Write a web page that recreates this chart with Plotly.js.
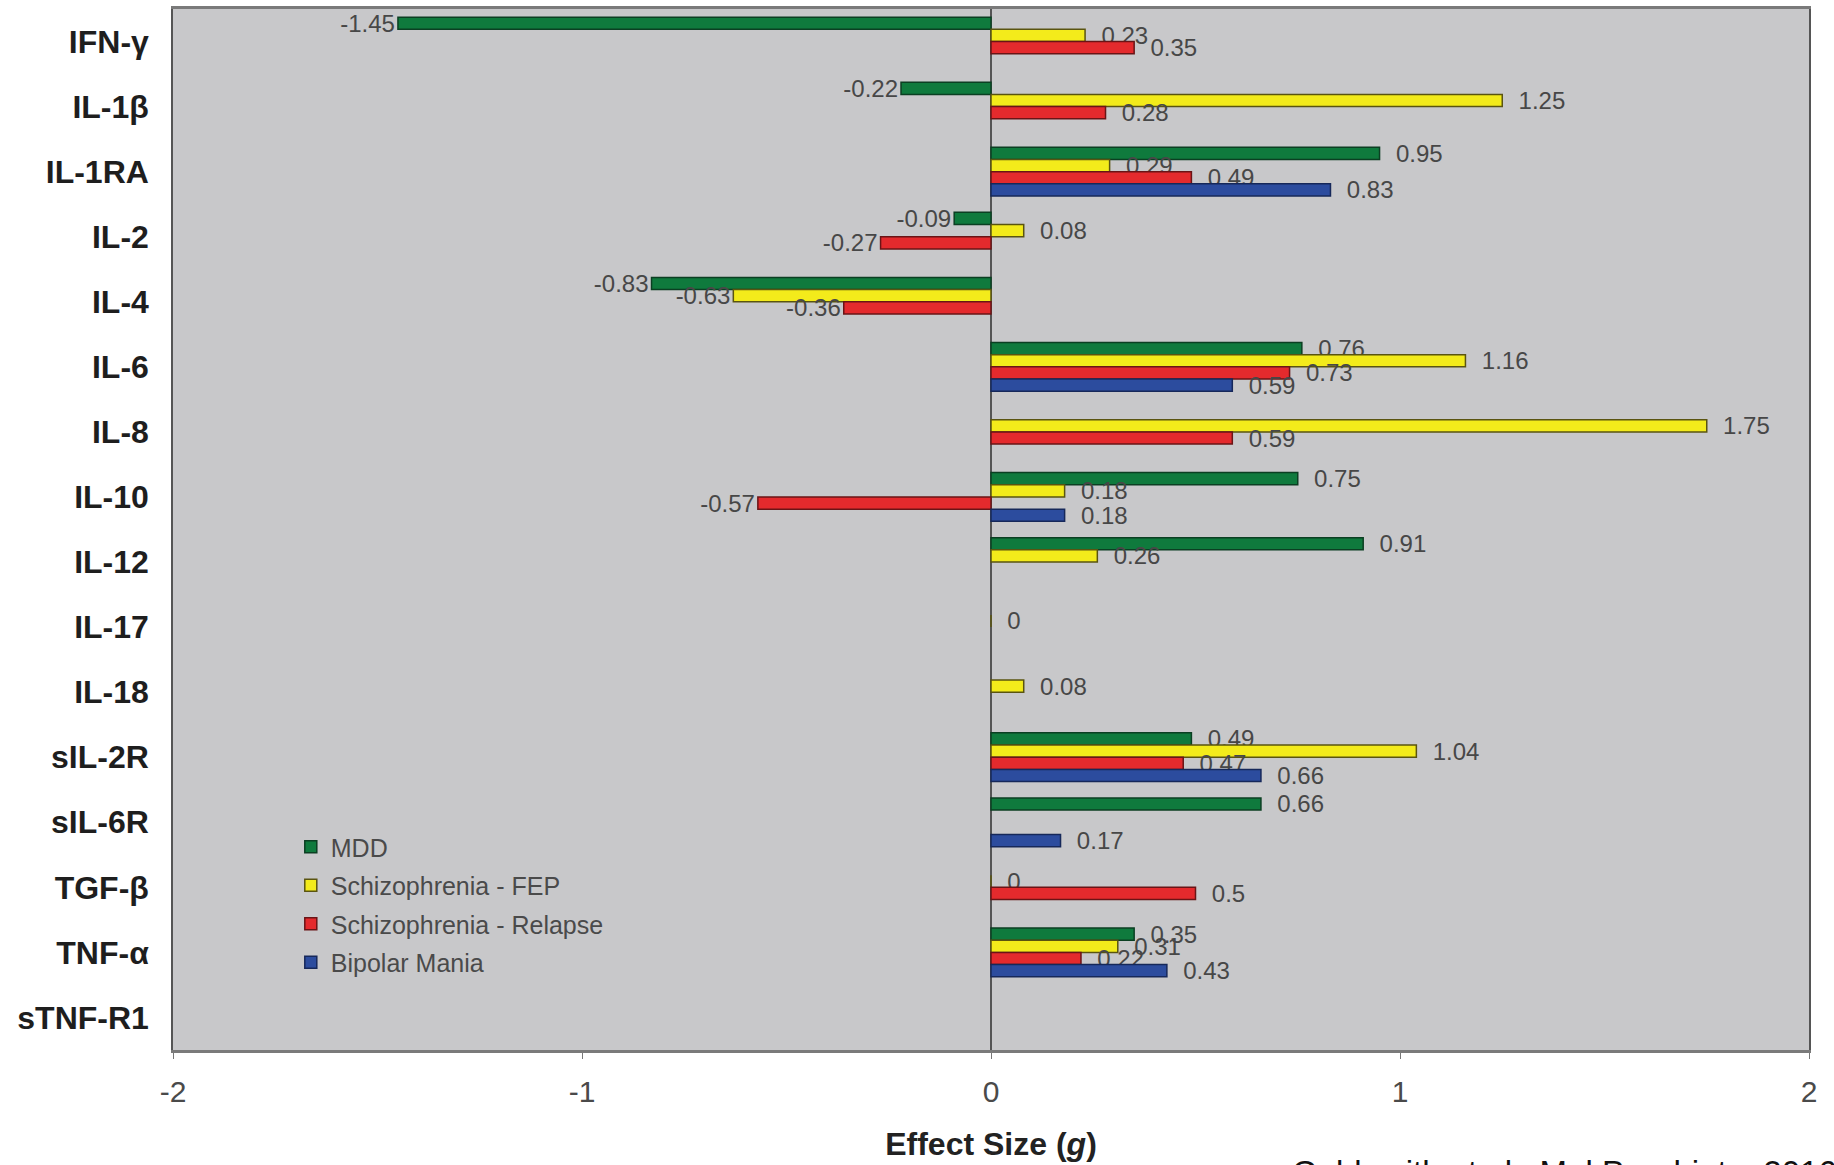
<!DOCTYPE html>
<html>
<head>
<meta charset="utf-8">
<script src="https://cdn.plot.ly/plotly-3.0.1.min.js"></script>
<style>
  html, body { margin: 0; padding: 0; background: #ffffff; }
  #chart { width: 1834px; height: 1165px; }
</style>
</head>
<body>
<div id="chart"></div>
<script>
// ---- Data ----
const cytokines = ["IFN-γ", "IL-1β", "IL-1RA", "IL-2", "IL-4", "IL-6", "IL-8", "IL-10",
                   "IL-12", "IL-17", "IL-18", "sIL-2R", "sIL-6R", "TGF-β", "TNF-α", "sTNF-R1"];

const seriesNames = ["MDD", "Schizophrenia - FEP", "Schizophrenia - Relapse", "Bipolar Mania"];

const mdd      = [-1.45, -0.22, 0.95, -0.09, -0.83, 0.76, null, 0.75, 0.91, null, null, 0.49, 0.66, null, 0.35, null];
const schizFEP = [0.23, 1.25, 0.29, 0.08, -0.63, 1.16, 1.75, 0.18, 0.26, 0, 0.08, 1.04, null, 0, 0.31, null];
const schizRel = [0.35, 0.28, 0.49, -0.27, -0.36, 0.73, 0.59, -0.57, null, null, null, 0.47, null, 0.5, 0.22, null];
const bipolar  = [null, null, 0.83, null, null, 0.59, null, 0.18, null, null, null, 0.66, 0.17, null, 0.43, null];

const xTicks = [-2, -1, 0, 1, 2];
const citation = "Goldsmith et al., Mol Psychiatry 2016";

// ---- Styles ----
const colors = ["#0f7a3d", "#f3eb1b", "#e42a2d", "#2c4c9e"];
const outline = ["#0b3f22", "#5a5410", "#6a1416", "#16285a"];
const allSeries = [mdd, schizFEP, schizRel, bipolar];

const traces = allSeries.map((vals, i) => ({
  type: "bar",
  orientation: "h",
  name: seriesNames[i],
  legendgroup: "g" + i,
  y: cytokines,
  x: vals,
  text: vals.map(v => (v === null ? "" : "\u00a0\u00a0" + String(v))),
  textposition: "outside",
  constraintext: "none",
  cliponaxis: false,
  textfont: { family: "Liberation Sans, Arial, sans-serif", size: 24, color: "#474747" },
  marker: { color: colors[i], line: { color: outline[i], width: 1.5 } },
  hoverinfo: "x+y+name"
}));

const layout = {
  width: 1834,
  height: 1165,
  margin: { l: 173, r: 25, t: 9, b: 115 },
  paper_bgcolor: "#ffffff",
  plot_bgcolor: "#c8c8ca",
  barmode: "group",
  bargap: 0.25,
  bargroupgap: 0,
  font: { family: "Liberation Sans, Arial, sans-serif", color: "#333" },
  showlegend: true,
  legend: {
    x: 0.072, y: 0.217, xanchor: "left", yanchor: "top",
    bgcolor: "rgba(0,0,0,0)",
    font: { family: "Liberation Sans, Arial, sans-serif", size: 25, color: "#4a4a4a" },
    traceorder: "grouped",
    tracegroupgap: 3
  },
  xaxis: {
    range: [-2, 2],
    tickmode: "array",
    tickvals: xTicks,
    ticktext: xTicks.map(String),
    ticks: "outside",
    ticklen: 6,
    tickcolor: "#777",
    ticklabelstandoff: 7,
    tickfont: { family: "Liberation Sans, Arial, sans-serif", size: 30, color: "#4a4a4a" },
    showgrid: false,
    zeroline: true,
    zerolinecolor: "#555",
    zerolinewidth: 2,
    showline: true,
    linecolor: "#7a7a7a",
    linewidth: 3,
    mirror: true,
    title: {
      text: "<b>Effect Size (<i>g</i>)</b>",
      font: { family: "Liberation Sans, Arial, sans-serif", size: 32, color: "#222" },
      standoff: 26
    }
  },
  yaxis: {
    type: "category",
    categoryorder: "array",
    categoryarray: cytokines,
    autorange: "reversed",
    showgrid: false,
    zeroline: false,
    ticks: "",
    ticklabelstandoff: 16,
    tickfont: { family: "Liberation Sans, Arial, sans-serif", size: 32, color: "#1e1e1e", weight: "bold" },
    showline: true,
    linecolor: "#555",
    linewidth: 1.5,
    mirror: true
  },
  yaxis2: {
    overlaying: "y",
    anchor: "free",
    position: 0.5,
    side: "left",
    range: [cytokines.length - 0.5, -0.5],
    tickmode: "array",
    tickvals: cytokines.slice(1).map((c, k) => k + 0.5),
    ticks: "outside",
    ticklen: 5,
    tickwidth: 1.5,
    tickcolor: "#555",
    showticklabels: false,
    showgrid: false,
    zeroline: false,
    showline: false,
    fixedrange: true
  },
  annotations: [{
    text: citation,
    xref: "paper", yref: "paper",
    x: 0.683, y: -0.098,
    xanchor: "left", yanchor: "top",
    showarrow: false,
    font: { family: "Liberation Sans, Arial, sans-serif", size: 33, color: "#111" }
  }]
};

Plotly.newPlot("chart", traces, layout, { displayModeBar: false, responsive: false });
</script>
</body>
</html>
